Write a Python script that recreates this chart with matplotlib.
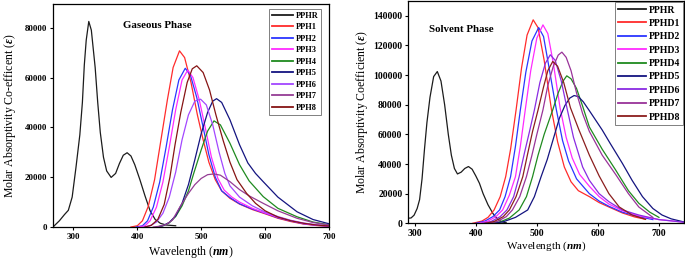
import matplotlib
matplotlib.use('Agg')
import matplotlib.pyplot as plt

plt.rcParams['font.family'] = ['Liberation Serif', 'DejaVu Serif']
plt.rcParams['font.weight'] = 'bold'
plt.rcParams['mathtext.fontset'] = 'custom'
plt.rcParams['mathtext.rm'] = 'Liberation Serif:bold'
plt.rcParams['mathtext.it'] = 'Liberation Serif:italic:bold'

# ---- gaseous phase (left panel) ----
gas_labels = ['PPHR', 'PPH1', 'PPH2', 'PPH3', 'PPH4', 'PPH5', 'PPH6', 'PPH7', 'PPH8']

gas_pphr_nm = [268, 278, 286, 292, 298, 304, 310, 314, 317, 320, 324, 328, 334, 338, 342, 347, 352, 359,
               366, 372, 378, 384, 390, 396, 404, 412, 420, 428, 436, 445, 460]
gas_pphr_eps = [0, 2500, 5000, 6700, 12000, 24000, 37000, 50000, 65000, 75000, 82500, 79000, 64000, 50000,
                38000, 28000, 22500, 19900, 21500, 25500, 28800, 29800, 28500, 25000, 19000, 12500, 6500,
                3000, 1500, 800, 500]

gas_pph1_nm = [390, 400, 408, 417, 427, 437, 447, 456, 466, 474, 484, 494, 503, 512, 522, 532, 545, 560,
               580, 600, 620, 640, 660, 680, 700]
gas_pph1_eps = [0, 500, 2500, 8200, 19000, 35000, 51000, 64000, 70700, 68000, 58000, 45000, 35000, 26000,
                19000, 14500, 11500, 9200, 7000, 5300, 3500, 2200, 1200, 600, 300]

gas_pph2_nm = [398, 408, 416, 425, 435, 445, 455, 465, 475, 483, 493, 503, 512, 522, 532, 545, 560, 580,
               600, 620, 640, 660, 680, 700]
gas_pph2_eps = [0, 500, 2500, 8000, 18000, 32000, 47000, 59000, 63700, 61000, 52000, 40000, 29000, 20000,
                14500, 11800, 9300, 7200, 5500, 3700, 2400, 1300, 700, 350]

gas_pph3_nm = [402, 412, 420, 430, 440, 450, 460, 470, 479, 487, 497, 507, 516, 526, 536, 548, 560, 580,
               600, 620, 640, 660, 680, 700]
gas_pph3_eps = [0, 500, 2500, 8000, 18000, 32000, 47000, 59000, 63000, 60000, 51000, 39000, 28000, 19500,
                14800, 12000, 10000, 7500, 5600, 3900, 2500, 1400, 700, 350]

gas_pph4_nm = [430, 440, 450, 460, 470, 480, 488, 500, 510, 520, 530, 545, 560, 575, 597, 620, 650, 675, 700]
gas_pph4_eps = [0, 500, 1700, 4200, 8500, 14500, 21300, 31000, 38500, 42600, 41000, 33600, 25000, 18500,
                12200, 7500, 4100, 2000, 900]

gas_pph5_nm = [430, 440, 450, 460, 470, 480, 490, 500, 510, 518, 524, 532, 545, 560, 573, 585, 597, 620,
               650, 675, 700]
gas_pph5_eps = [0, 500, 1800, 4500, 9500, 17000, 27000, 37500, 46000, 50500, 51500, 50000, 43000, 33000,
                25700, 21500, 18200, 12000, 6100, 3000, 1300]

gas_pph6_nm = [410, 420, 430, 440, 450, 460, 470, 480, 490, 499, 508, 518, 528, 537, 545, 560, 580, 600,
               620, 640, 660, 680, 700]
gas_pph6_eps = [0, 500, 2000, 5500, 12000, 22000, 35000, 45000, 50500, 51300, 49000, 41000, 30000, 21500,
                16500, 12000, 8500, 6000, 4200, 2700, 1600, 900, 500]

gas_pph7_nm = [425, 435, 445, 455, 467, 480, 490, 500, 510, 520, 530, 545, 560, 575, 597, 620, 650, 675, 700]
gas_pph7_eps = [0, 300, 1000, 2800, 8200, 13500, 17000, 19500, 21000, 21300, 20800, 18200, 15000, 12500,
                9500, 6500, 3500, 1800, 800]

gas_pph8_nm = [412, 422, 432, 442, 451, 459, 468, 478, 486, 493, 503, 513, 523, 534, 545, 556, 571, 585,
               600, 620, 640, 660, 680, 700]
gas_pph8_eps = [0, 700, 3000, 9000, 20000, 33000, 46000, 58000, 63500, 64700, 62000, 55000, 45000, 35000,
                26000, 19000, 13500, 9500, 6500, 4000, 2500, 1500, 800, 400]

# ---- solvent phase (right panel) ----
sol_labels = ['PPHR', 'PPHD1', 'PPHD2', 'PPHD3', 'PPHD4', 'PPHD5', 'PPHD6', 'PPHD7', 'PPHD8']

sol_pphr_nm = [289, 294, 299, 304, 308, 312, 316, 320, 325, 331, 337, 343, 349, 355, 360, 365, 370, 376,
               382, 388, 394, 400, 406, 412, 420, 428, 435, 442, 450]
sol_pphr_eps = [3400, 3600, 5500, 10000, 16000, 30000, 50000, 68000, 85000, 99000, 102400, 96000, 80000,
                60000, 46000, 37000, 33300, 34500, 37000, 38300, 36500, 32000, 27000, 20000, 12500, 6700,
                3000, 1100, 300]

sol_d1_nm = [395, 410, 420, 430, 440, 449, 457, 466, 475, 484, 494, 502, 512, 524, 534, 545, 556, 568,
             586, 602, 618, 640, 660, 678]
sol_d1_eps = [0, 1500, 4000, 9000, 18000, 31500, 50000, 76500, 105000, 127000, 137300, 132000, 110000,
              76500, 55000, 38000, 28000, 22000, 18000, 14000, 11000, 7000, 4300, 2700]

sol_d2_nm = [400, 415, 428, 439, 448, 457, 465, 473, 482, 492, 503, 511, 520, 532, 542, 552, 565, 586,
             602, 618, 640, 667, 690]
sol_d2_eps = [0, 1500, 4500, 9000, 18000, 31500, 52000, 76500, 102000, 123000, 132100, 126000, 105000,
              76500, 56000, 42000, 30000, 20000, 15000, 11500, 7500, 4500, 2500]

sol_d3_nm = [405, 420, 433, 444, 455, 465, 473, 481, 490, 500, 510, 518, 527, 538, 548, 558, 570, 586,
             602, 618, 640, 667, 700, 740]
sol_d3_eps = [0, 1500, 4500, 9000, 19000, 31500, 52000, 76500, 103000, 125000, 133900, 128000, 108000,
              78000, 58000, 44000, 33000, 25000, 18000, 13000, 8500, 5000, 2500, 800]

sol_d4_nm = [425, 440, 455, 471, 483, 493, 502, 512, 526, 535, 543, 549, 556, 565, 575, 586, 607, 629,
             650, 667, 685, 700]
sol_d4_eps = [0, 1000, 3500, 9000, 18000, 31500, 46000, 60000, 76500, 88000, 96000, 99500, 97500, 91000,
              79000, 65000, 50000, 36000, 22000, 13500, 7500, 4000]

sol_d5_nm = [430, 445, 465, 485, 496, 507, 517, 527, 537, 546, 554, 561, 568, 576, 586, 607, 620, 640,
             656, 673, 690, 705, 720, 740]
sol_d5_eps = [0, 1000, 4000, 9000, 18000, 31500, 43000, 57000, 71000, 79500, 84500, 86200, 85500, 82000,
              76000, 63000, 54000, 40500, 29000, 18000, 10000, 5600, 3000, 1000]

sol_d6_nm = [410, 425, 440, 451, 462, 471, 480, 488, 496, 505, 514, 522, 530, 540, 550, 560, 575, 586,
             602, 618, 640, 667, 700, 740]
sol_d6_eps = [0, 1200, 4500, 9000, 18000, 31500, 48000, 62000, 76500, 95000, 108000, 113700, 110000,
              96000, 76500, 58000, 38000, 29000, 20000, 14600, 9000, 5600, 2500, 800]

sol_d7_nm = [420, 435, 450, 460, 472, 483, 492, 500, 510, 518, 527, 535, 541, 548, 556, 565, 575, 586,
             607, 629, 650, 667, 690]
sol_d7_eps = [0, 1200, 4500, 9000, 18000, 31500, 46000, 60000, 76500, 93000, 106000, 113500, 115500,
              112000, 103000, 88000, 74000, 62000, 46000, 33000, 20000, 11000, 4000]

sol_d8_nm = [415, 430, 445, 455, 466, 477, 485, 493, 502, 511, 518, 526, 534, 544, 555, 569, 586, 602,
             618, 635, 656, 678]
sol_d8_eps = [0, 1200, 4500, 9000, 18000, 31500, 47000, 62000, 76500, 92000, 103000, 109200, 106000,
              95000, 78000, 63000, 46000, 32000, 20000, 11000, 5600, 2700]

gas_colors = ['#1c1c1c', '#ff2b2b', '#2b35ff', '#ff2bff', '#1f8a1f', '#141480', '#a347ff', '#953d95', '#861414']
sol_colors = ['#1c1c1c', '#ff2b2b', '#2b35ff', '#ff2bff', '#1f8a1f', '#141480', '#8a2be2', '#993399', '#8b1e1e']

gas_series = [(gas_pphr_nm, gas_pphr_eps), (gas_pph1_nm, gas_pph1_eps), (gas_pph2_nm, gas_pph2_eps),
              (gas_pph3_nm, gas_pph3_eps), (gas_pph4_nm, gas_pph4_eps), (gas_pph5_nm, gas_pph5_eps),
              (gas_pph6_nm, gas_pph6_eps), (gas_pph7_nm, gas_pph7_eps), (gas_pph8_nm, gas_pph8_eps)]
sol_series = [(sol_pphr_nm, sol_pphr_eps), (sol_d1_nm, sol_d1_eps), (sol_d2_nm, sol_d2_eps),
              (sol_d3_nm, sol_d3_eps), (sol_d4_nm, sol_d4_eps), (sol_d5_nm, sol_d5_eps),
              (sol_d6_nm, sol_d6_eps), (sol_d7_nm, sol_d7_eps), (sol_d8_nm, sol_d8_eps)]

W, H = 685, 261
fig = plt.figure(figsize=(W / 100, H / 100), dpi=100)

# axes placed in pixel units of the reference
ax1 = fig.add_axes([53 / W, (H - 227) / H, (329 - 53) / W, (227 - 4) / H])
ax2 = fig.add_axes([408 / W, (H - 223.3) / H, (684 - 408) / W, (223.3 - 1) / H])

# left panel
for (x, y), lab, c in zip(gas_series, gas_labels, gas_colors):
    ax1.plot(x, y, color=c, lw=0.9, label=lab)
ax1.set_xlim(268, 700)
ax1.set_ylim(0, 89500)
ax1.set_xticks([300, 400, 500, 600, 700])
ax1.set_yticks([0, 20000, 40000, 60000, 80000])
ax1.tick_params(labelsize=6.4, length=2.5, width=0.8, pad=1.5)
ax1.set_xlabel(r'Wavelength ($\mathit{nm}$)', fontsize=8.6, labelpad=2.5)
ax1.set_ylabel(r'Molar Absorptivity Co-efficent ($\mathit{\varepsilon}$)', fontsize=8.5, labelpad=5)
ax1.text(378, 80700, 'Gaseous Phase', fontsize=7.8, fontweight='bold', va='center')
leg1 = ax1.legend(loc='upper right', bbox_to_anchor=(0.971, 0.978), borderaxespad=0, fontsize=6,
                  labelspacing=0.42, handlelength=2.6, handletextpad=0.25, borderpad=0.35,
                  fancybox=False, framealpha=1)
leg1.get_frame().set_edgecolor('#808080')
leg1.get_frame().set_linewidth(0.7)

# right panel
for (x, y), lab, c in zip(sol_series, sol_labels, sol_colors):
    ax2.plot(x, y, color=c, lw=0.9, label=lab)
ax2.set_xlim(289, 741)
ax2.set_ylim(0, 150000)
ax2.set_xticks([300, 400, 500, 600, 700])
ax2.set_yticks([0, 20000, 40000, 60000, 80000, 100000, 120000, 140000])
ax2.tick_params(labelsize=7, length=2.5, width=0.8, pad=1.5)
ax2.set_xlabel(r'Wavelength ($\mathit{nm}$)', fontsize=8, labelpad=1.5)
ax2.set_ylabel(r'Molar Absorptivity Coefficient ($\mathit{\varepsilon}$)', fontsize=8.5, labelpad=2)
ax2.text(324, 130500, 'Solvent Phase', fontsize=7.8, fontweight='bold', va='center')
leg2 = ax2.legend(loc='upper right', bbox_to_anchor=(0.998, 0.995), borderaxespad=0, fontsize=7,
                  labelspacing=0.45, handlelength=2.9, handletextpad=0.25, borderpad=0.35,
                  fancybox=False, framealpha=1)
leg2.get_frame().set_edgecolor('#808080')
leg2.get_frame().set_linewidth(0.7)

for leg in (leg1, leg2):
    for h in leg.get_lines():
        h.set_linewidth(1.3)

for ax in (ax1, ax2):
    for s in ax.spines.values():
        s.set_linewidth(0.9)

fig.savefig('out.png', dpi=100)
